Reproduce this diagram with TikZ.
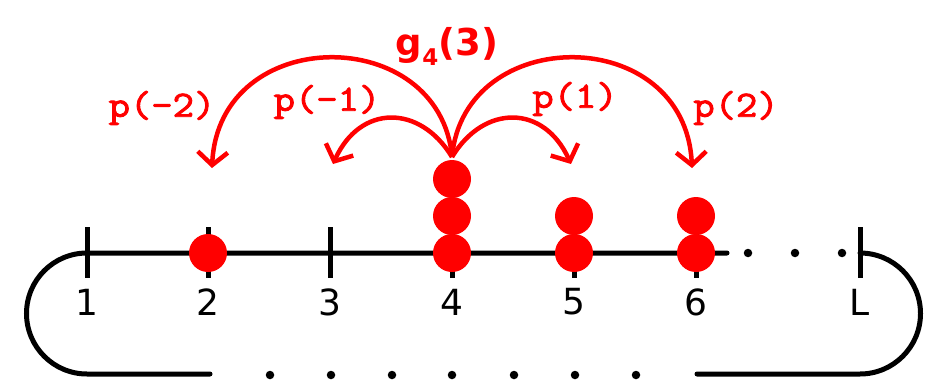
\documentclass[tikz,border=0pt]{standalone}
\usepackage{fontspec}
\setmainfont{DejaVu Sans}
\newfontfamily\pfont{Latin Modern Mono}[FakeBold=2.5, FakeStretch=1.12]
\usetikzlibrary{arrows.meta}
\definecolor{rd}{RGB}{255,0,0}
\tikzset{
  blk/.style={line width=5pt, black},
  tick/.style={line width=5pt, black},
  ball/.style={circle, fill=rd, inner sep=0pt, minimum size=38pt},
  dot/.style={circle, fill=black, inner sep=0pt, minimum size=8.5pt},
  num/.style={font=\fontsize{36}{40}\selectfont, inner sep=0pt},
  plab/.style={font=\pfont\fontsize{37}{40}\selectfont, text=rd, inner sep=0pt},
  glab/.style={font=\bfseries\fontsize{37}{40}\selectfont, text=rd, inner sep=0pt},
  hop/.style={line width=4.5pt, rd, -{Straight Barb[length=13pt,width=30pt]}}
}
\begin{document}
\begin{tikzpicture}[x=1pt,y=-1pt]
\useasboundingbox (0,0) rectangle (927,388);
% sites
\foreach \n/\x in {1/87,2/208,3/330,4/452,5/574,6/696,L/860}{
  \coordinate (s\n) at (\x,253);
  \coordinate (t\n) at (\x,227);
  \coordinate (b\n) at (\x,278);
}
\coordinate (lineend) at (727,253);
\coordinate (bl2) at (210,374);
\coordinate (br1) at (697,374);
\coordinate (br2) at (860,374);
% main line and loop
\draw[blk, line cap=round] (lineend) -- (s1) arc[start angle=270, end angle=90, radius=60.5] -- (bl2);
\draw[blk, line cap=round] (br1) -- (br2) arc[start angle=90, end angle=-90, radius=60.5] -- (sL);
\foreach \n in {1,2,3,4,5,6,L}{ \draw[tick] (t\n) -- (b\n); }
% dots
\foreach \x/\i in {748/a,795/b,842/c}{ \node[dot] (d\i) at (\x,253) {}; }
\foreach \x/\i in {270/a,331/b,392/c,452/d,514/e,575/f,636/g}{ \node[dot] (e\i) at (\x,375) {}; }
% labels
\foreach \n in {1,2,3,4,5,6,L}{ \node[num] (n\n) at ([yshift=-49pt]s\n) {\n}; }
% balls
\node[ball] (p2a) at (208,253) {};
\node[ball] (p4a) at (452,253) {};
\node[ball] (p4b) at (452,216) {};
\node[ball] (p4c) at (452,179) {};
\node[ball] (p5a) at (574,253) {};
\node[ball] (p5b) at (574,216) {};
\node[ball] (p6a) at (696,253) {};
\node[ball] (p6b) at (696,216) {};
% hops
\coordinate (src) at (452,157);
\coordinate (e-2) at (212,168);
\coordinate (e-1) at (333,164);
\coordinate (e1) at (571,164);
\coordinate (e2) at (692,168);
\draw[hop] (src) .. controls (440,23) and (219,23) .. (e-2);
\draw[hop] (src) .. controls (420,104) and (360,104) .. (e-1);
\draw[hop] (src) .. controls (484,104) and (544,104) .. (e1);
\draw[hop] (src) .. controls (464,23) and (685,23) .. (e2);
\node[plab] (l-2) at (162,108) {p(-2)};
\node[plab] (l-1) at (327,102) {p(-1)};
\node[plab] (l1) at (575,99) {p(1)};
\node[plab] (l2) at (736,108) {p(2)};
\node[glab] (g) at (447,46) {g\raisebox{-10pt}{\fontsize{23}{23}\selectfont 4}(3)};
\end{tikzpicture}
\end{document}
